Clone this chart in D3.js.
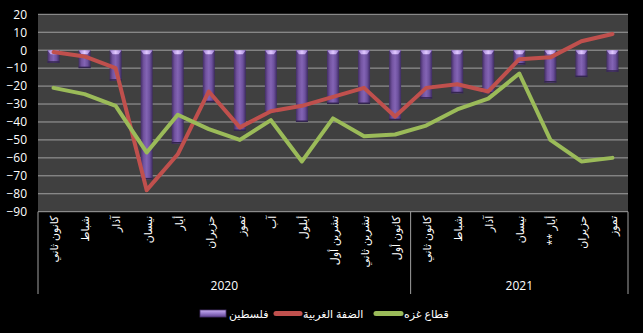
<!DOCTYPE html>
<html><head><meta charset="utf-8">
<script src="https://cdn.jsdelivr.net/npm/d3@7"></script>
<style>
html,body{margin:0;padding:0;background:#000;}
svg{display:block;}
text{font-family:"Open Sans","DejaVu Sans",sans-serif;fill:#fff;}
</style></head>
<body>
<svg id="c" width="643" height="333"></svg>
<script>
const months = ["كانون ثاني","شباط","آذار","نيسان","أيار","حزيران","تموز","آب","أيلول","تشرين أول","تشرين ثاني","كانون أول",
                "كانون ثاني","شباط","آذار","نيسان","أيار **","حزيران","تموز"];
const years = [{label:"2020", from:0, to:12},{label:"2021", from:12, to:19}];
const palestine = [-7,-10,-17,-72,-52,-29,-45,-35,-40,-30,-30,-39,-27,-24,-24,-8,-18,-15,-12];
const westBank  = [-1,-3.5,-10,-78,-58,-23,-43,-34,-31,-26,-21,-37,-21,-19,-23,-5,-4,5,9];
const gaza      = [-21,-24.5,-31,-57,-36,-44,-50,-39,-62,-38,-48,-47,-42,-33,-27,-13,-50,-62,-60];
const yTicks = d3.range(-90, 21, 10);
const seriesNames = ["فلسطين","الضفة الغربية","قطاع غزه"];

const svg = d3.select("#c");
const L = 38, R = 628, T = 14.3, B = 211.7;
const x = d3.scaleBand().domain(d3.range(months.length)).range([L, R]).paddingInner(0).paddingOuter(0);
const y = d3.scaleLinear().domain([-90, 20]).range([B, T]);

const defs = svg.append("defs");
const g1 = defs.append("linearGradient").attr("id","barG").attr("x1","0").attr("x2","1").attr("y1","0").attr("y2","0");
[["0%","#432e66"],["25%","#72539f"],["50%","#8364b4"],["75%","#6c509d"],["100%","#3d2b60"]].forEach(s=>g1.append("stop").attr("offset",s[0]).attr("stop-color",s[1]));
const g2 = defs.append("linearGradient").attr("id","capG").attr("x1","0").attr("x2","1");
[["0%","#9c7dd0"],["50%","#e0c8ff"],["100%","#9c7dd0"]].forEach(s=>g2.append("stop").attr("offset",s[0]).attr("stop-color",s[1]));
const g3 = defs.append("linearGradient").attr("id","legG").attr("x1","0").attr("x2","0").attr("y1","0").attr("y2","1");
[["0%","#c9b0f0"],["45%","#9b7fd0"],["100%","#5e4390"]].forEach(s=>g3.append("stop").attr("offset",s[0]).attr("stop-color",s[1]));

// plot area
svg.append("rect").attr("x",L).attr("y",T).attr("width",R-L).attr("height",B-T).attr("fill","#404040");

// gridlines
svg.append("g").selectAll("line").data(yTicks).join("line")
  .attr("x1",L).attr("x2",R).attr("y1",d=>y(d)).attr("y2",d=>y(d))
  .attr("stroke","#a0a0a0").attr("stroke-width",1);

// y axis labels
const yAxis = d3.axisLeft(y).tickValues(yTicks).tickSize(0).tickPadding(11);
const ya = svg.append("g").attr("transform",`translate(${L},0)`).call(yAxis);
ya.select(".domain").remove();
ya.selectAll("text").attr("font-size",12).attr("fill","#fff").style("font-family","'Open Sans',sans-serif");

// bars
const bw = 12;
const bars = svg.append("g");
palestine.forEach((v,i)=>{
  const cx = x(i) + x.bandwidth()/2;
  bars.append("rect").attr("x",cx-bw/2).attr("y",y(0)).attr("width",bw).attr("height",y(v)-y(0)).attr("fill","url(#barG)");
  bars.append("rect").attr("x",cx-bw/2).attr("y",y(v)-1.5).attr("width",bw).attr("height",1.5).attr("fill","#33254f");
  bars.append("path").attr("d",`M${cx-bw/2},${y(0)}L${cx+bw/2},${y(0)}L${cx+bw/2-3},${y(0)+4}L${cx-bw/2+3},${y(0)+4}Z`).attr("fill","url(#capG)");
});

// lines
const line = d3.line().x((d,i)=>x(i)+x.bandwidth()/2).y(d=>y(d));
svg.append("path").datum(westBank).attr("d",line).attr("fill","none").attr("stroke","#c0504d").attr("stroke-width",4).attr("stroke-linejoin","round").attr("stroke-linecap","round");
svg.append("path").datum(gaza).attr("d",line).attr("fill","none").attr("stroke","#9bbb59").attr("stroke-width",4).attr("stroke-linejoin","round").attr("stroke-linecap","round");

// category axis
const axB = 294;
svg.append("g").selectAll("line").data([L, x(12), R]).join("line")
  .attr("x1",d=>d).attr("x2",d=>d).attr("y1",B).attr("y2",axB).attr("stroke","#a0a0a0").attr("stroke-width",1);

svg.append("g").selectAll("text").data(months).join("text")
  .attr("transform",(d,i)=>`translate(${x(i)+x.bandwidth()/2+1},${B+4}) rotate(-90)`)
  .attr("direction","rtl").style("direction","rtl").attr("text-anchor","start")
  .attr("dy","0.35em").attr("font-size",11).text(d=>d);

svg.append("g").selectAll("text").data(years).join("text")
  .attr("x",d=>(x(d.from)+x(d.to-1)+x.bandwidth())/2).attr("y",290)
  .attr("text-anchor","middle").attr("font-size",12).text(d=>d.label);

// legend
const leg = svg.append("g");
leg.append("rect").attr("x",200).attr("y",310).attr("width",26).attr("height",7).attr("fill","url(#legG)").attr("stroke","#4a3370").attr("stroke-width",0.8);
leg.append("text").attr("x",229).attr("y",318).attr("font-size",11).text(seriesNames[0]);
leg.append("line").attr("x1",276).attr("x2",300).attr("y1",313.5).attr("y2",313.5).attr("stroke","#c0504d").attr("stroke-width",5).attr("stroke-linecap","round");
leg.append("text").attr("x",303).attr("y",318).attr("font-size",11).text(seriesNames[1]);
leg.append("line").attr("x1",376).attr("x2",401).attr("y1",313.5).attr("y2",313.5).attr("stroke","#9bbb59").attr("stroke-width",5).attr("stroke-linecap","round");
leg.append("text").attr("x",404).attr("y",318).attr("font-size",11).text(seriesNames[2]);
</script>
</body></html>
